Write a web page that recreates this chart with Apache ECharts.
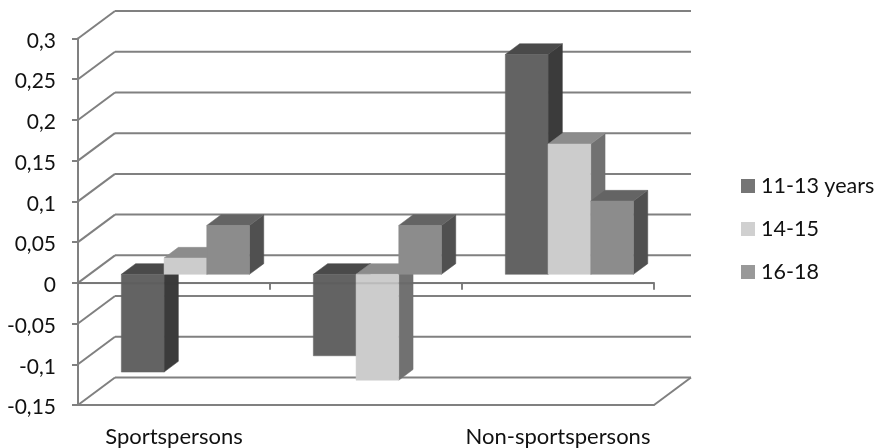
<!DOCTYPE html>
<html>
<head>
<meta charset="utf-8">
<style>html,body{margin:0;padding:0;background:#fff}#chart{width:878px;height:448px}</style>
<script src="https://cdn.jsdelivr.net/npm/echarts@6/dist/echarts.min.js"></script>
</head>
<body>
<div id="chart"></div>
<script>
// Survey results by age group
const categories = ['Sportspersons', '', 'Non-sportspersons'];
const yTicks = [-0.15, -0.1, -0.05, 0, 0.05, 0.1, 0.15, 0.2, 0.25, 0.3];
const ages1113 = [-0.12, -0.1, 0.27];
const ages1415 = [0.02, -0.13, 0.16];
const ages1618 = [0.06, 0.06, 0.09];

// Pseudo-3D projection, in pixels
const WALL_DX = 37, WALL_DY = -27.5;     // front plane to back wall
const BAR_SHIFT_DX = 11.4, BAR_SHIFT_DY = -8.5; // front plane to bar front face
const BAR_DX = 14.3, BAR_DY = -10.7;     // bar depth
const BAR_W = 42.7;
const LINE = '#808080';
const LINE_W = 2;
const FONT = 'Lato, Carlito, sans-serif';
const INK = '#111111';

function wallLines(params, api) {
  const cs = params.coordSys;
  const y = api.coord([0, api.value(0)])[1];
  const left = cs.x, right = cs.x + cs.width;
  const style = {stroke: LINE, lineWidth: LINE_W, fill: null};
  const children = [
    {type: 'line', shape: {x1: left, y1: y, x2: left + WALL_DX, y2: y + WALL_DY}, style},
    {type: 'line', shape: {x1: left + WALL_DX, y1: y + WALL_DY, x2: right + WALL_DX, y2: y + WALL_DY}, style}
  ];
  if (params.dataIndex === 0) {
    children.push({type: 'line', shape: {x1: right, y1: y, x2: right + WALL_DX, y2: y + WALL_DY}, style});
  }
  return {type: 'group', children};
}

// The zero line shows faintly through the bars standing behind it
function zeroOverlay(params, api) {
  const cs = params.coordSys;
  const y = api.coord([0, api.value(0)])[1] + 0.5;
  return {
    type: 'line',
    shape: {x1: cs.x, y1: y, x2: cs.x + cs.width, y2: y},
    style: {stroke: 'rgba(60,60,60,0.12)', lineWidth: LINE_W, fill: null}
  };
}

function barRenderer(slot, faces) {
  return function (params, api) {
    const cat = api.value(0), val = api.value(1);
    const centre = api.coord([cat, 0]);
    const left = centre[0] + BAR_SHIFT_DX + (slot - 1.5) * BAR_W;
    const right = left + BAR_W;
    const base = centre[1] + BAR_SHIFT_DY;
    const end = api.coord([cat, val])[1] + BAR_SHIFT_DY;
    const top = Math.min(base, end), bottom = Math.max(base, end);
    const poly = (points, fill) => ({type: 'polygon', shape: {points}, style: {fill, stroke: fill, lineWidth: 0.5}});
    return {type: 'group', children: [
      poly([[right, top], [right + BAR_DX, top + BAR_DY], [right + BAR_DX, bottom + BAR_DY], [right, bottom]], faces.side),
      poly([[left, top], [left + BAR_DX, top + BAR_DY], [right + BAR_DX, top + BAR_DY], [right, top]], faces.top),
      poly([[left, top], [right, top], [right, bottom], [left, bottom]], faces.front)
    ]};
  };
}

function barSeries(name, values, slot, faces) {
  return {
    name, type: 'custom', coordinateSystem: 'cartesian2d', clip: false, z: 3,
    encode: {x: 0, y: 1},
    data: values.map((v, i) => [i, v]),
    renderItem: barRenderer(slot, faces)
  };
}

const chart = echarts.init(document.getElementById('chart'), null, {renderer: 'canvas'});
chart.setOption({
  animation: false,
  backgroundColor: '#fff',
  grid: {left: 78, right: 224, top: 38.5, bottom: 43},
  legend: {
    orient: 'vertical', left: 741, top: 175, padding: 0, itemWidth: 14, itemHeight: 14, itemGap: 21,
    icon: 'rect', selectedMode: false,
    textStyle: {fontFamily: FONT, fontSize: 21.5, color: INK, padding: [4, 0, 0, 1]},
    data: [
      {name: '11-13 years', itemStyle: {color: '#757575'}},
      {name: '14-15', itemStyle: {color: '#d0d0d0'}},
      {name: '16-18', itemStyle: {color: '#999999'}}
    ]
  },
  xAxis: [
    {
      type: 'category', data: categories, position: 'bottom',
      axisLine: {onZero: false, lineStyle: {color: LINE, width: LINE_W}},
      axisTick: {show: false},
      axisLabel: {interval: 0, margin: 21, fontFamily: FONT, fontSize: 22, color: INK}
    },
    {
      type: 'category', data: categories, position: 'top',
      axisLine: {onZero: true, lineStyle: {color: LINE, width: LINE_W}},
      axisTick: {show: true, inside: true, length: 7, lineStyle: {color: LINE, width: LINE_W}},
      axisLabel: {show: false}
    }
  ],
  yAxis: {
    type: 'value', min: -0.15, max: 0.3, interval: 0.05,
    axisLine: {show: true, onZero: false, lineStyle: {color: LINE, width: LINE_W}},
    axisTick: {show: true, length: 6, lineStyle: {color: LINE, width: LINE_W}},
    splitLine: {show: false},
    axisLabel: {
      margin: 22, fontFamily: FONT, fontSize: 21, color: INK,
      verticalAlign: 'top', lineHeight: 5,
      formatter: v => String(Math.round(v * 100) / 100).replace('.', ',')
    }
  },
  series: [
    {
      type: 'custom', coordinateSystem: 'cartesian2d', clip: false, z: 1, silent: true,
      encode: {y: 0},
      data: yTicks.map(v => [v]),
      renderItem: wallLines
    },
    barSeries('11-13 years', ages1113, 0, {front: '#636363', side: '#3b3b3b', top: '#4a4a4a'}),
    barSeries('14-15', ages1415, 1, {front: '#cccccc', side: '#717171', top: '#8c8c8c'}),
    barSeries('16-18', ages1618, 2, {front: '#8c8c8c', side: '#505050', top: '#646464'}),
    {
      type: 'custom', coordinateSystem: 'cartesian2d', clip: false, z: 4, silent: true,
      encode: {y: 0},
      data: [[0]],
      renderItem: zeroOverlay
    }
  ]
});
</script>
</body>
</html>
